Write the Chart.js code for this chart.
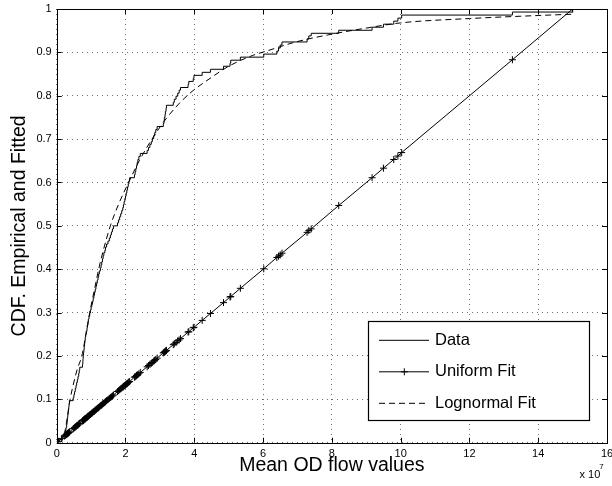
<!DOCTYPE html>
<html>
<head>
<meta charset="utf-8">
<style>
  html, body { margin: 0; padding: 0; background: #fff; }
  #c { display: block; }
</style>
<script src="https://cdn.jsdelivr.net/npm/chart.js@4.4.1/dist/chart.umd.min.js"></script>
</head>
<body>
<canvas id="c" width="612" height="486"></canvas>
<script>
// ---- Data (x values in units of 1e7) ----
const flowValues = [
  0.05, 0.15, 0.22, 0.25, 0.27, 0.29, 0.30, 0.31, 0.32, 0.33,
  0.34, 0.35, 0.36, 0.37, 0.48, 0.50, 0.52, 0.54, 0.56, 0.58,
  0.60, 0.62, 0.64, 0.655, 0.67, 0.75, 0.76, 0.765, 0.77, 0.78,
  0.79, 0.80, 0.81, 0.82, 0.83, 0.84, 0.86, 0.88, 0.89, 0.91,
  0.92, 0.94, 0.96, 0.98, 1.00, 1.02, 1.04, 1.06, 1.08, 1.10,
  1.12, 1.14, 1.16, 1.18, 1.20, 1.22, 1.24, 1.27, 1.29, 1.31,
  1.33, 1.35, 1.37, 1.40, 1.42, 1.45, 1.49, 1.53, 1.56, 1.59,
  1.62, 1.65, 1.77, 1.80, 1.83, 1.86, 1.89, 1.92, 1.94, 1.96,
  1.98, 2.00, 2.02, 2.04, 2.06, 2.08, 2.10, 2.12, 2.26, 2.28,
  2.30, 2.32, 2.34, 2.36, 2.39, 2.43, 2.63, 2.67, 2.71, 2.75,
  2.78, 2.82, 2.85, 2.88, 2.92, 3.10, 3.12, 3.13, 3.15, 3.16,
  3.18, 3.19, 3.39, 3.42, 3.47, 3.52, 3.56, 3.60, 3.82, 3.84,
  3.97, 3.99, 4.23, 4.47, 4.85, 5.04, 5.06, 5.34, 6.02, 6.40,
  6.45, 6.50, 6.55, 7.28, 7.33, 7.40, 8.20, 9.17, 9.50, 9.80,
  9.92, 10.03, 13.25, 15.00
];
const empiricalCdf = [
  0.007, 0.014, 0.021, 0.028, 0.035, 0.042, 0.049, 0.056, 0.063, 0.069,
  0.076, 0.083, 0.090, 0.097, 0.104, 0.111, 0.118, 0.125, 0.132, 0.139,
  0.146, 0.153, 0.160, 0.167, 0.174, 0.181, 0.188, 0.194, 0.201, 0.208,
  0.215, 0.222, 0.229, 0.236, 0.243, 0.250, 0.257, 0.264, 0.271, 0.278,
  0.285, 0.292, 0.299, 0.306, 0.313, 0.319, 0.326, 0.333, 0.340, 0.347,
  0.354, 0.361, 0.368, 0.375, 0.382, 0.389, 0.396, 0.403, 0.410, 0.417,
  0.424, 0.431, 0.438, 0.444, 0.451, 0.458, 0.465, 0.472, 0.479, 0.486,
  0.493, 0.500, 0.507, 0.514, 0.521, 0.528, 0.535, 0.542, 0.549, 0.556,
  0.563, 0.569, 0.576, 0.583, 0.590, 0.597, 0.604, 0.611, 0.618, 0.625,
  0.632, 0.639, 0.646, 0.653, 0.660, 0.667, 0.674, 0.681, 0.688, 0.694,
  0.701, 0.708, 0.715, 0.722, 0.729, 0.736, 0.743, 0.750, 0.757, 0.764,
  0.771, 0.778, 0.785, 0.792, 0.799, 0.806, 0.813, 0.819, 0.826, 0.833,
  0.840, 0.847, 0.854, 0.861, 0.868, 0.875, 0.882, 0.889, 0.896, 0.903,
  0.910, 0.917, 0.924, 0.931, 0.938, 0.944, 0.951, 0.958, 0.965, 0.972,
  0.979, 0.986, 0.993, 1.000
];
const uniformCdf = [
  0.003, 0.010, 0.015, 0.017, 0.018, 0.019, 0.020, 0.021, 0.021, 0.022,
  0.023, 0.023, 0.024, 0.025, 0.032, 0.033, 0.035, 0.036, 0.037, 0.039,
  0.040, 0.041, 0.043, 0.044, 0.045, 0.050, 0.051, 0.051, 0.051, 0.052,
  0.053, 0.053, 0.054, 0.055, 0.055, 0.056, 0.057, 0.059, 0.059, 0.061,
  0.061, 0.063, 0.064, 0.065, 0.067, 0.068, 0.069, 0.071, 0.072, 0.073,
  0.075, 0.076, 0.077, 0.079, 0.080, 0.081, 0.083, 0.085, 0.086, 0.087,
  0.089, 0.090, 0.091, 0.093, 0.095, 0.097, 0.099, 0.102, 0.104, 0.106,
  0.108, 0.110, 0.118, 0.120, 0.122, 0.124, 0.126, 0.128, 0.129, 0.131,
  0.132, 0.133, 0.135, 0.136, 0.137, 0.139, 0.140, 0.141, 0.151, 0.152,
  0.153, 0.155, 0.156, 0.157, 0.159, 0.162, 0.175, 0.178, 0.181, 0.183,
  0.185, 0.188, 0.190, 0.192, 0.195, 0.207, 0.208, 0.209, 0.210, 0.211,
  0.212, 0.213, 0.226, 0.228, 0.231, 0.235, 0.237, 0.240, 0.255, 0.256,
  0.265, 0.266, 0.282, 0.298, 0.323, 0.336, 0.337, 0.356, 0.401, 0.427,
  0.430, 0.433, 0.437, 0.485, 0.489, 0.493, 0.547, 0.611, 0.633, 0.653,
  0.661, 0.669, 0.883, 1.000
];
const lognormalX = [
  0.08, 0.15, 0.25, 0.32, 0.39, 0.50, 0.60, 0.73, 0.85, 0.96,
  1.09, 1.22, 1.36, 1.56, 1.80, 2.09, 2.40, 2.77, 3.21, 3.79,
  4.55, 5.00, 5.70, 6.10, 6.95, 7.87, 9.00, 10.00, 12.00, 14.00, 15.00
];
const lognormalCdf = [
  0.000, 0.005, 0.030, 0.065, 0.100, 0.140, 0.170, 0.200, 0.250, 0.300,
  0.350, 0.400, 0.445, 0.500, 0.550, 0.600, 0.650, 0.700, 0.750, 0.800,
  0.845, 0.868, 0.893, 0.903, 0.924, 0.940, 0.956, 0.968, 0.978, 0.985, 0.988
];
const xTickValues = [0, 2, 4, 6, 8, 10, 12, 14, 16];
const xTickLabels = ['0', '2', '4', '6', '8', '10', '12', '14', '16'];
const yTickValues = [0, 0.1, 0.2, 0.3, 0.4, 0.5, 0.6, 0.7, 0.8, 0.9, 1];
const yTickLabels = ['0', '0.1', '0.2', '0.3', '0.4', '0.5', '0.6', '0.7', '0.8', '0.9', '1'];
const seriesNames = ['Data', 'Uniform Fit', 'Lognormal Fit'];
const xTitle = 'Mean OD flow values';
const yTitle = 'CDF. Empirical and Fitted';
const xExponentBase = 'x 10';
const xExponent = '7';

// ---- Build point lists ----
const dataPoints = [{ x: flowValues[0], y: 0 }].concat(
  flowValues.map((v, i) => ({ x: v, y: empiricalCdf[i] })));
const uniformPoints = flowValues.map((v, i) => ({ x: v, y: uniformCdf[i] }));
const lognormalPoints = lognormalX.map((v, i) => ({ x: v, y: lognormalCdf[i] }));

const FONT = "'Liberation Sans', Arial, Helvetica, sans-serif";
Chart.defaults.font.family = FONT;
Chart.defaults.color = '#000';

const frameAndLegend = {
  id: 'frameAndLegend',
  afterDraw(chart) {
    const ctx = chart.ctx;
    const a = chart.chartArea;
    const xs = chart.scales.x, ys = chart.scales.y;
    ctx.save();
    ctx.strokeStyle = '#000';
    ctx.lineWidth = 1;
    ctx.setLineDash([]);
    // inward tick marks
    const tl = 5;
    ctx.beginPath();
    xTickValues.forEach(v => {
      const px = Math.round(xs.getPixelForValue(v)) + 0.5;
      ctx.moveTo(px, a.bottom); ctx.lineTo(px, a.bottom - tl);
      ctx.moveTo(px, a.top); ctx.lineTo(px, a.top + tl);
    });
    yTickValues.forEach(v => {
      const py = Math.round(ys.getPixelForValue(v)) + 0.5;
      ctx.moveTo(a.left, py); ctx.lineTo(a.left + tl, py);
      ctx.moveTo(a.right, py); ctx.lineTo(a.right - tl, py);
    });
    ctx.stroke();
    // frame
    ctx.strokeRect(Math.round(a.left) + 0.5, Math.round(a.top) + 0.5,
      Math.round(a.right - a.left), Math.round(a.bottom - a.top));

    // exponent label
    ctx.fillStyle = '#000';
    ctx.textAlign = 'left';
    ctx.textBaseline = 'alphabetic';
    ctx.font = '11px ' + FONT;
    ctx.fillText(xExponentBase, 579.5, 478.3);
    ctx.font = '8px ' + FONT;
    ctx.fillText(xExponent, 599.2, 468.5);

    // legend
    const bx = 368.5, by = 321.5, bw = 221, bh = 99;
    ctx.fillStyle = '#fff';
    ctx.fillRect(bx, by, bw, bh);
    ctx.lineWidth = 1.2;
    ctx.strokeStyle = '#000';
    ctx.strokeRect(bx, by, bw, bh);
    const rows = [340.3, 371.8, 403.3];
    const ds = chart.data.datasets;
    ds.forEach((d, i) => {
      const y = rows[i];
      ctx.save();
      ctx.strokeStyle = d.borderColor;
      ctx.lineWidth = d.borderWidth;
      ctx.setLineDash(d.borderDash || []);
      ctx.beginPath();
      ctx.moveTo(379, y); ctx.lineTo(429, y);
      ctx.stroke();
      ctx.setLineDash([]);
      if (d.pointRadius > 0) {
        const r = d.pointRadius;
        const cx = 404.3;
        ctx.beginPath();
        ctx.moveTo(cx - r, y); ctx.lineTo(cx + r, y);
        ctx.moveTo(cx, y - r); ctx.lineTo(cx, y + r);
        ctx.stroke();
      }
      ctx.restore();
      ctx.fillStyle = '#000';
      ctx.font = '16.5px ' + FONT;
      ctx.textAlign = 'left';
      ctx.textBaseline = 'middle';
      ctx.fillText(d.label, 435, y);
    });
    ctx.restore();
  }
};

new Chart(document.getElementById('c'), {
  type: 'scatter',
  data: {
    datasets: [
      {
        label: seriesNames[0],
        data: dataPoints,
        showLine: true,
        stepped: 'before',
        borderColor: '#000',
        borderWidth: 1,
        pointRadius: 0,
        fill: false
      },
      {
        label: seriesNames[1],
        data: uniformPoints,
        showLine: true,
        borderColor: '#000',
        backgroundColor: '#000',
        borderWidth: 1,
        pointStyle: 'cross',
        pointRadius: 3.5,
        pointBorderWidth: 1,
        pointBorderColor: '#000',
        fill: false
      },
      {
        label: seriesNames[2],
        data: lognormalPoints,
        showLine: true,
        borderColor: '#000',
        borderWidth: 1,
        borderDash: [6, 4],
        pointRadius: 0,
        cubicInterpolationMode: 'monotone',
        fill: false
      }
    ]
  },
  options: {
    responsive: false,
    animation: false,
    events: [],
    layout: { padding: { left: 0, right: 4.1, top: 9, bottom: 0 } },
    plugins: {
      legend: { display: false },
      tooltip: { enabled: false }
    },
    scales: {
      x: {
        type: 'linear',
        min: 0, max: 16,
        afterBuildTicks: s => { s.ticks = xTickValues.map(v => ({ value: v })); },
        afterFit: s => { s.height = 43.3; s.paddingLeft = 0; s.paddingRight = 0; s.paddingTop = 0; s.paddingBottom = 0; },
        ticks: {
          callback: (v, i) => xTickLabels[i],
          font: { size: 11 },
          color: '#000',
          padding: 5,
          maxRotation: 0,
          autoSkip: false
        },
        grid: { color: '#6f6f6f', lineWidth: 1, drawTicks: false },
        border: { display: false, dash: [1, 4] },
        title: {
          display: true,
          text: xTitle,
          font: { size: 19.5 },
          color: '#000',
          padding: { top: 0, bottom: 8.8 }
        }
      },
      y: {
        type: 'linear',
        min: 0, max: 1,
        afterBuildTicks: s => { s.ticks = yTickValues.map(v => ({ value: v })); },
        afterFit: s => { s.width = 56.7; s.paddingLeft = 0; s.paddingRight = 0; s.paddingTop = 0; s.paddingBottom = 0; },
        ticks: {
          callback: (v, i) => yTickLabels[i],
          font: { size: 11 },
          color: '#000',
          padding: 5,
          autoSkip: false
        },
        grid: { color: '#6f6f6f', lineWidth: 1, drawTicks: false },
        border: { display: false, dash: [1, 4] },
        title: {
          display: true,
          text: yTitle,
          font: { size: 19.5 },
          color: '#000',
          padding: { top: 8.2, bottom: 0 }
        }
      }
    }
  },
  plugins: [frameAndLegend]
});
</script>
</body>
</html>
